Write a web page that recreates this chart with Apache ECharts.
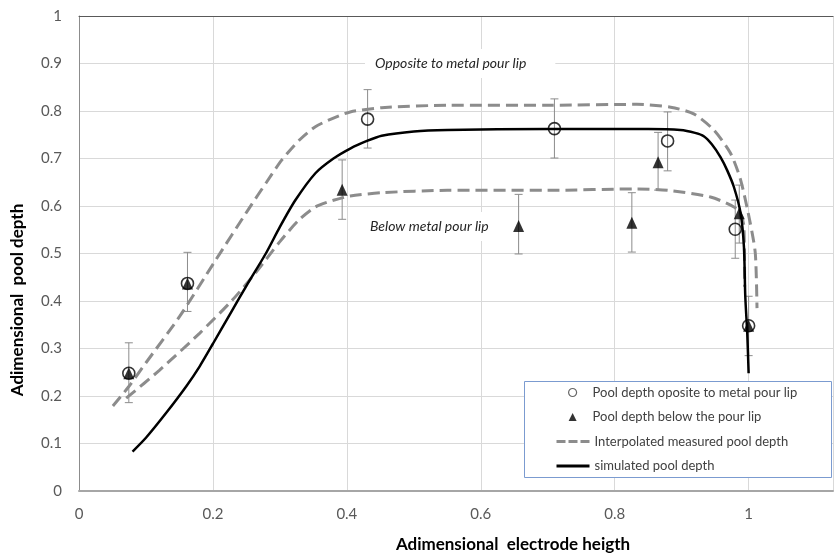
<!DOCTYPE html>
<html>
<head>
<meta charset="utf-8">
<script src="https://cdn.jsdelivr.net/npm/echarts@6/dist/echarts.min.js"></script>
<style>
  html, body { margin: 0; padding: 0; background: #fff; }
  #root { width: 836px; height: 554px; }
</style>
</head>
<body>
<div id="root"></div>
<script>
// measured points: [x, y]
const oppositePts = [[0.0744, 0.248], [0.162, 0.437], [0.431, 0.783], [0.710, 0.763], [0.879, 0.737], [0.980, 0.551], [1.000, 0.348]];
const oppositeErr = [[0.186, 0.312], [0.378, 0.5025], [0.722, 0.845], [0.701, 0.8255], [0.674, 0.798], [0.490, 0.6125], [0.285, 0.410]];

const belowPts = [[0.0744, 0.248], [0.162, 0.437], [0.393, 0.634], [0.6565, 0.558], [0.8256, 0.565], [0.8648, 0.692], [0.986, 0.585], [1.000, 0.348]];
const belowErr = [null, null, [0.572, 0.697], [0.499, 0.6245], [0.503, 0.628], [0.6335, 0.755], [0.522, 0.644], null];

// interpolated measured pool depth (upper / lower envelopes)
const interpUpper = [
  [0.0506, 0.179], [0.0744, 0.22], [0.10, 0.27], [0.15, 0.367], [0.204, 0.486], [0.254, 0.595],
  [0.28, 0.65], [0.303, 0.697], [0.33, 0.74], [0.353, 0.767], [0.38, 0.785], [0.405, 0.798],
  [0.452, 0.807], [0.55, 0.812], [0.70, 0.812], [0.833, 0.814], [0.8835, 0.808], [0.918, 0.794],
  [0.948, 0.760], [0.973, 0.711], [0.988, 0.655], [1.0025, 0.5635], [1.01, 0.50], [1.0125, 0.385]
];
const interpLower = [
  [0.0705, 0.1955], [0.12, 0.254], [0.18, 0.332], [0.229, 0.402], [0.264, 0.46], [0.30, 0.525],
  [0.328, 0.570], [0.353, 0.598], [0.38, 0.612], [0.405, 0.621], [0.452, 0.628], [0.55, 0.633],
  [0.70, 0.633], [0.834, 0.636], [0.88, 0.633], [0.943, 0.619], [0.978, 0.598], [0.988, 0.584],
  [0.993, 0.556], [0.994, 0.43]
];

// simulated pool depth
const simulated = [
  [0.080, 0.083], [0.10, 0.112], [0.13, 0.164], [0.16, 0.220], [0.18, 0.262], [0.20, 0.31],
  [0.229, 0.381], [0.25, 0.432], [0.279, 0.500], [0.30, 0.556], [0.323, 0.612], [0.353, 0.669],
  [0.38, 0.700], [0.405, 0.721], [0.43, 0.737], [0.452, 0.748], [0.50, 0.757], [0.55, 0.760],
  [0.70, 0.762], [0.85, 0.762], [0.898, 0.760], [0.92, 0.754], [0.933, 0.747], [0.945, 0.730],
  [0.958, 0.703], [0.968, 0.675], [0.978, 0.640], [0.988, 0.585], [0.993, 0.514], [0.995, 0.41],
  [0.998, 0.33], [1.0, 0.248]
];

const seriesNames = [
  'Pool depth oposite to metal pour lip',
  'Pool depth below the pour lip',
  'Interpolated measured pool depth',
  'simulated pool depth'
];

const FONT = 'Lato, "Open Sans", sans-serif';

// error bars: [x, low, high]
const errData = [];
oppositePts.forEach((p, i) => { if (oppositeErr[i]) errData.push([p[0], oppositeErr[i][0], oppositeErr[i][1]]); });
belowPts.forEach((p, i) => { if (belowErr[i]) errData.push([p[0], belowErr[i][0], belowErr[i][1]]); });

function renderErr(params, api) {
  const x = api.value(0);
  const top = api.coord([x, api.value(2)]);
  const bot = api.coord([x, api.value(1)]);
  const cap = 4;
  const style = { stroke: '#8c8c8c', lineWidth: 1 };
  return {
    type: 'group',
    children: [
      { type: 'line', shape: { x1: top[0], y1: top[1], x2: bot[0], y2: bot[1] }, style },
      { type: 'line', shape: { x1: top[0] - cap, y1: top[1], x2: top[0] + cap, y2: top[1] }, style },
      { type: 'line', shape: { x1: bot[0] - cap, y1: bot[1], x2: bot[0] + cap, y2: bot[1] }, style }
    ]
  };
}

const chart = echarts.init(document.getElementById('root'));

const hiddenSymbol = { color: 'rgba(0,0,0,0)', borderWidth: 0, opacity: 0 };

const option = {
  backgroundColor: '#fff',
  animation: false,
  grid: { left: 79, right: 0, top: 16, bottom: 63 },
  xAxis: [
    {
      type: 'value', min: 0, max: 1.126, interval: 0.2,
      axisLine: { lineStyle: { color: '#a6a6a6', width: 2 } },
      axisTick: { show: false },
      splitLine: { lineStyle: { color: '#d9d9d9', width: 1 } },
      axisLabel: {
        margin: 16, fontFamily: FONT, fontSize: 15, color: '#595959',
        formatter: v => (v <= 1.0001 && Math.abs(v * 5 - Math.round(v * 5)) < 1e-6) ? String(+v.toFixed(1)) : ''
      }
    },
    {
      type: 'value', position: 'top', min: 0, max: 1.126,
      axisLine: { onZero: false, lineStyle: { color: '#595959', width: 1 } },
      axisTick: { show: false }, axisLabel: { show: false }, splitLine: { show: false }
    }
  ],
  yAxis: {
    type: 'value', min: 0, max: 1, interval: 0.1,
    axisLine: { show: true, lineStyle: { color: '#8c8c8c', width: 1 } },
    axisTick: { show: false },
    splitLine: { lineStyle: { color: '#d9d9d9', width: 1 } },
    axisLabel: {
      margin: 17, fontFamily: FONT, fontSize: 15, color: '#595959',
      formatter: v => String(+v.toFixed(1))
    }
  },
  legend: [
    {
      orient: 'vertical', left: 563, top: 381,
      itemWidth: 8, itemHeight: 8, itemGap: 11.4,
      textStyle: { fontFamily: FONT, fontSize: 13, color: '#404040', padding: [0, 0, 0, 11] },
      data: [
        { name: seriesNames[0], icon: 'circle', itemStyle: { color: 'rgba(0,0,0,0)', borderColor: '#404040', borderWidth: 1.2 } },
        { name: seriesNames[1], icon: 'triangle', itemStyle: { color: '#000' } }
      ]
    },
    {
      orient: 'vertical', left: 550, top: 430,
      itemWidth: 33, itemHeight: 16, itemGap: 11.4,
      textStyle: { fontFamily: FONT, fontSize: 13, color: '#404040' },
      data: [
        { name: seriesNames[2], itemStyle: hiddenSymbol, lineStyle: { type: [9, 3], width: 3, color: '#8c8c8c' } },
        { name: seriesNames[3], itemStyle: hiddenSymbol, lineStyle: { width: 3, color: '#000' } }
      ]
    }
  ],
  graphic: [
    {
      type: 'rect', z: 3, silent: true,
      shape: { x: 524.5, y: 381.5, width: 307, height: 96 },
      style: { fill: '#fff', stroke: '#7b9bd0', lineWidth: 1 }
    },
    {
      type: 'text', z: 1, x: 365, y: 49,
      style: {
        text: 'Opposite to metal pour lip', font: 'italic 14px ' + FONT, fill: '#262626',
        backgroundColor: '#fff', padding: [7, 29, 8, 10]
      }
    },
    {
      type: 'text', z: 1, x: 360, y: 212,
      style: {
        text: 'Below metal pour lip', font: 'italic 14px ' + FONT, fill: '#262626',
        backgroundColor: '#fff', padding: [7, 10, 8, 10]
      }
    },
    {
      type: 'text', x: 18, y: 300, rotation: Math.PI / 2,
      style: {
        text: 'Adimensional  pool depth', font: 'bold 17px ' + FONT, fill: '#000',
        textAlign: 'center', textVerticalAlign: 'middle'
      }
    },
    {
      type: 'text', x: 513, y: 545,
      style: {
        text: 'Adimensional  electrode heigth', font: 'bold 17px ' + FONT, fill: '#000',
        textAlign: 'center', textVerticalAlign: 'middle'
      }
    }
  ],
  series: [
    {
      type: 'custom', name: 'err', renderItem: renderErr, data: errData,
      encode: { x: 0, y: [1, 2] }, z: 2, silent: true
    },
    {
      name: seriesNames[2], type: 'line', data: interpUpper, symbol: 'none',
      smooth: 0.25, z: 3,
      itemStyle: { color: '#8c8c8c' },
      lineStyle: { color: '#8c8c8c', width: 3, type: [12, 6] }
    },
    {
      name: seriesNames[2], type: 'line', data: interpLower, symbol: 'none',
      smooth: 0.25, z: 3,
      itemStyle: { color: '#8c8c8c' },
      lineStyle: { color: '#8c8c8c', width: 3, type: [12, 6] }
    },
    {
      name: seriesNames[3], type: 'line', data: simulated, symbol: 'none',
      smooth: 0.25, z: 4,
      itemStyle: { color: '#000' },
      lineStyle: { color: '#000', width: 2.5 }
    },
    {
      name: seriesNames[1], type: 'scatter', data: belowPts, symbol: 'triangle',
      symbolSize: [11, 12], z: 5,
      itemStyle: { color: '#000' }
    },
    {
      name: seriesNames[0], type: 'scatter', data: oppositePts, symbol: 'circle',
      symbolSize: 12, z: 6,
      itemStyle: { color: 'rgba(0,0,0,0)', borderColor: '#000', borderWidth: 1.6 }
    }
  ]
};

chart.setOption(option);
</script>
</body>
</html>
